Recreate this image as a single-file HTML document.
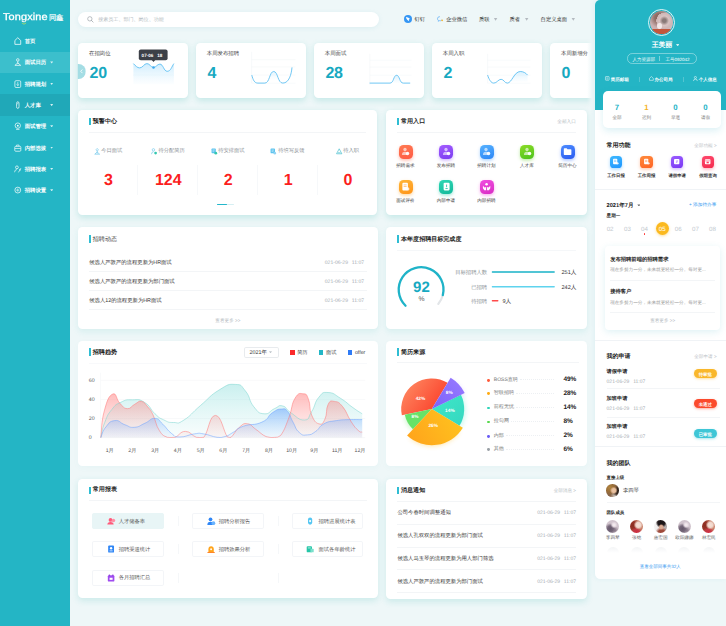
<!DOCTYPE html>
<html lang="zh">
<head>
<meta charset="utf-8">
<title>Tongxine HR Dashboard</title>
<style>
*{box-sizing:border-box;margin:0;padding:0}
html,body{width:726px;height:626px;overflow:hidden}
body{position:relative;text-rendering:geometricPrecision;background:#eef7f8;font-family:"Liberation Sans",sans-serif;color:#333;font-size:5.3px;line-height:1}
.abs{position:absolute}
svg{display:block;overflow:visible}
/* sidebar */
#side{position:absolute;left:0;top:0;width:70.4px;height:626px;background:#24b5c5;color:#fff}
#logo{position:absolute;left:3.4px;top:12.6px;font-size:10px;font-weight:normal;letter-spacing:.12px;white-space:nowrap;-webkit-text-stroke:.3px #fff;transform:scaleX(1.09);transform-origin:0 0}
#logo2{position:absolute;left:49px;top:14.2px;font-size:7.3px;letter-spacing:-.2px;white-space:nowrap;-webkit-text-stroke:.15px #fff}
.mi{position:absolute;left:0;width:70.4px;height:21.3px;font-size:5.4px;font-weight:bold}
.mi .ic{position:absolute;left:13.9px;top:6.6px;width:7.6px;height:8.2px}
.mi .tx{position:absolute;left:24.7px;top:9.5px;white-space:nowrap}
.mi .ar{position:absolute;left:50.2px;top:9.6px;width:3px;height:2.2px;background:rgba(255,255,255,.8);clip-path:polygon(0 0,100% 0,50% 100%)}
/* top */
#search{position:absolute;left:78px;top:12px;width:301.4px;height:15.4px;border-radius:8px;background:#fff;box-shadow:0 1px 5px rgba(60,170,190,.10)}
#search .ph{position:absolute;left:20.2px;top:6.1px;font-size:5.05px;color:#b4bcc2;white-space:nowrap}
.nav{position:absolute;top:18.1px;font-size:5.3px;color:#333;white-space:nowrap}
.dn{position:absolute;top:17.5px;width:4px;height:3.3px;background:#b3b9bf;clip-path:polygon(0 0,100% 0,50% 100%)}
/* cards */
.card{position:absolute;top:43.2px;width:110px;height:55px;border-radius:4.5px;background:#fff;box-shadow:0 2.5px 6px rgba(40,180,172,.2)}
.card .lb{position:absolute;left:11.2px;top:8.7px;font-size:5.4px;color:#444;white-space:nowrap}
.card .nm{position:absolute;left:11.8px;top:23px;font-size:16px;font-weight:bold;color:#17a9c1;letter-spacing:-.2px}
/* panels */
.pn{position:absolute;border-radius:4.5px;background:#fff;box-shadow:0 2.5px 6.5px rgba(40,180,172,.2)}
#p-news,#p-goal{box-shadow:0 2.5px 6.5px rgba(40,180,172,.11)}
#p-trend,#p-src{box-shadow:0 2px 6px rgba(40,180,172,.035)}
#p-rep,#p-msg{box-shadow:0 2.5px 6.5px rgba(40,180,172,.17)}
.pt{position:absolute;left:10.6px;top:7.8px;height:7.4px;border-left:2.2px solid #2fbdd3;padding-left:2px;font-size:6.05px;font-weight:bold;color:#222;line-height:10.4px;white-space:nowrap}
.hr{position:absolute;height:1px;background:#f3f5f7}
.gr{color:#b3bac0}
.wc{position:absolute;top:38.1px;width:60px;text-align:center;white-space:nowrap}
.wc .l{display:inline-block;font-size:5.25px;color:#8b9196;vertical-align:top;line-height:7px}
.wc svg{display:inline-block;vertical-align:top;width:6.4px;height:7px;margin-right:1.4px;margin-top:-.2px}
.wc .n{position:absolute;left:.6px;top:25.1px;width:60px;text-align:center;font-size:16px;font-weight:bold;color:#fb1e1e;letter-spacing:0}
.vd{position:absolute;top:55.4px;width:1px;height:30px;background:#f6f8fa}

.nr{position:absolute;left:11px;right:11px;height:19px;font-size:5.35px;color:#333;white-space:nowrap}
.nr .t{position:absolute;left:0;top:7.95px}
.nr .d{position:absolute;right:2.4px;top:7.9px;font-size:5.1px;color:#a4abb1;word-spacing:2.4px}
.more{position:absolute;left:0;right:0;text-align:center;font-size:4.6px;color:#b3bac0;white-space:nowrap}
.gl{position:absolute;margin-top:1.25px;font-size:5.35px;color:#8b9196;white-space:nowrap;text-align:right}
.gv{position:absolute;margin-top:1.7px;font-size:5.6px;color:#333;white-space:nowrap}
.gb{position:absolute;height:1.3px;border-radius:1px}
.ax{position:absolute;margin-top:1.1px;font-size:5.2px;color:#555;white-space:nowrap}
.lg{position:absolute;top:9.65px;font-size:5.2px;color:#444;white-space:nowrap}
.lg i{display:inline-block;width:4.6px;height:4.6px;margin-right:2.6px;vertical-align:-.4px}
.sl{position:absolute;margin-top:.95px;left:107.4px;font-size:5.05px;color:#777;white-space:nowrap}
.sl i{position:absolute;left:-6.4px;top:1.2px;width:2.8px;height:2.8px;border-radius:50%}
.sp{position:absolute;margin-top:1px;left:177px;width:22px;text-align:left;font-size:6.5px;font-weight:bold;color:#222;white-space:nowrap}
.sd{position:absolute;height:0;border-top:1px dotted #edf0f3}
.pp{position:absolute;font-size:4.8px;margin-top:.9px;color:#fff;font-weight:bold;white-space:nowrap}

.rb{position:absolute;width:71.6px;height:16.4px;border:1px solid #f3f5f8;border-radius:1.8px;background:#fff;font-size:5.27px;color:#555;white-space:nowrap}
.rb svg{position:absolute;left:13.6px;top:3px;width:8.2px;height:8.2px}
.rb span{position:absolute;left:25.8px;top:5.6px}
.mr{position:absolute;left:11px;right:11px;height:22.7px;font-size:5.35px;color:#333;white-space:nowrap}
.mr .t{position:absolute;left:0;top:10px}
.mr .d{position:absolute;right:0;top:9.9px;font-size:5px;color:#a4abb1;word-spacing:2.4px}

#right{font-size:5px}
.rl{position:absolute;top:77.8px;font-size:4.5px;font-weight:bold;color:#fff;white-space:nowrap}
.rs{position:absolute;top:76.6px;width:1px;height:5px;background:rgba(255,255,255,.22)}
.st{position:absolute;top:12.6px;width:24px;text-align:center}
.st b{display:block;font-size:7.8px;color:#22b3c6}
.st span{display:block;margin-top:4.6px;font-size:4.6px;color:#777;white-space:nowrap}
.rt{position:absolute;left:12px;font-size:6px;font-weight:bold;color:#222;white-space:nowrap}
.ra{position:absolute;right:9.4px;font-size:4.6px;color:#b8bec4;white-space:nowrap}
.fi{position:absolute;top:155.8px;width:12.6px;height:12.6px;border-radius:3.6px}
.fi svg{position:absolute;left:2.6px;top:2.6px;width:7.4px;height:7.4px}
.fl{position:absolute;top:173.8px;width:30px;text-align:center;font-size:4.4px;font-weight:bold;color:#333;white-space:nowrap}
.dt{position:absolute;top:226.6px;width:14px;text-align:center;font-size:6.2px;color:#c3c9cf}
.bd{position:absolute;left:99.2px;width:23px;height:9.2px;border-radius:4.6px;color:#fff;font-size:4.4px;text-align:center;line-height:12.4px;font-weight:bold;white-space:nowrap}
.av{position:absolute;border-radius:50%;overflow:hidden}
.an{position:absolute;top:536.3px;width:24px;text-align:center;font-size:4.6px;color:#666;white-space:nowrap}
.ei{position:absolute;width:14px;height:14px;border-radius:4.5px}
.ei svg{position:absolute;left:2.4px;top:2.4px;width:9.2px;height:9.2px}
.el{position:absolute;width:40px;text-align:center;font-size:4.55px;color:#333;white-space:nowrap}

</style>
</head>
<body>

<!-- ============ SIDEBAR ============ -->
<div id="side">
  <div id="logo">Tongxine</div><div id="logo2">同鑫</div>
  <svg class="abs" style="left:21.8px;top:22.6px" width="4" height="2" viewBox="0 0 4 2"><path d="M.2.3Q2 2.4 3.8.3" fill="none" stroke="#c8e64a" stroke-width=".7" stroke-linecap="round"/></svg>

  <div class="mi" style="top:30.9px"><svg class="ic" viewBox="0 0 13 14"><path d="M1.5 6 6.5 1.2 11.5 6V12.6H1.5Z" fill="none" stroke="#fff" stroke-width="1.3" stroke-linejoin="round"/></svg><span class="tx">首页</span></div>
  <div class="mi" style="top:51.8px;background:#3cbfcc"><svg class="ic" viewBox="0 0 13 14"><circle cx="6.5" cy="3.3" r="2.2" fill="none" stroke="#fff" stroke-width="1.2"/><path d="M6.5 5.6V10M1.5 12.6 6.5 8.4 11.5 12.6Z" fill="none" stroke="#fff" stroke-width="1.2" stroke-linejoin="round"/></svg><span class="tx">面试日历</span><i class="ar"></i></div>
  <div class="mi" style="top:73.1px"><svg class="ic" viewBox="0 0 13 14"><rect x="1.5" y="1.2" width="10" height="11.6" rx="2" fill="none" stroke="#fff" stroke-width="1.2"/><path d="M6.5 3.6V9.4M4.2 7.4 6.5 9.6 8.8 7.4" fill="none" stroke="#fff" stroke-width="1.1"/></svg><span class="tx">招聘规划</span><i class="ar"></i></div>
  <div class="mi" style="top:94.4px;background:#20a8b8"><svg class="ic" viewBox="0 0 13 14"><path d="M4.4 4.4Q4.4 1.2 6.5 1.2 8.6 1.2 8.6 4.4V9.6Q8.6 12.8 6.5 12.8 4.4 12.8 4.4 9.6Z" fill="none" stroke="#fff" stroke-width="1.2"/><path d="M6.5 3V5.6" stroke="#fff" stroke-width="1.1"/></svg><span class="tx">人才库</span><i class="ar"></i></div>
  <div class="mi" style="top:115.7px"><svg class="ic" viewBox="0 0 13 14"><circle cx="6.5" cy="6.2" r="4.6" fill="none" stroke="#fff" stroke-width="1.2"/><circle cx="6.5" cy="6.2" r="1.6" fill="#fff"/><path d="M3.6 12.6H9.4" stroke="#fff" stroke-width="1.2"/></svg><span class="tx">面试管理</span><i class="ar"></i></div>
  <div class="mi" style="top:137px"><svg class="ic" viewBox="0 0 13 14"><rect x="1.3" y="4" width="10.4" height="8.4" rx="1.6" fill="none" stroke="#fff" stroke-width="1.2"/><path d="M4.4 4V1.8H8.6V4M1.5 7.6H11.5" fill="none" stroke="#fff" stroke-width="1.1"/></svg><span class="tx">内部选拔</span><i class="ar"></i></div>
  <div class="mi" style="top:158.3px"><svg class="ic" viewBox="0 0 13 14"><circle cx="5" cy="4" r="2.4" fill="none" stroke="#fff" stroke-width="1.2"/><path d="M1 12.4Q1 7.8 5 7.8M7.6 12.6 11.8 5.4M9 7.4 12 9" fill="none" stroke="#fff" stroke-width="1.1"/></svg><span class="tx">招聘报表</span><i class="ar"></i></div>
  <div class="mi" style="top:179.6px"><svg class="ic" viewBox="0 0 13 14"><circle cx="6.5" cy="7" r="5" fill="none" stroke="#fff" stroke-width="1.2"/><path d="M3.6 7H9.4M6.5 4.2V9.8" stroke="#fff" stroke-width="1"/></svg><span class="tx">招聘设置</span><i class="ar"></i></div>
</div>

<!-- ============ TOP BAR ============ -->
<div id="search">
  <svg class="abs" style="left:8.6px;top:4.4px" width="6.6" height="6.6" viewBox="0 0 13 13"><circle cx="5.6" cy="5.6" r="4.3" fill="none" stroke="#8f979d" stroke-width="1.2"/><path d="M8.9 8.9 12 12" stroke="#8f979d" stroke-width="1.3" stroke-linecap="round"/></svg>
  <span class="ph">搜索员工、部门、岗位、功能</span>
</div>
<svg class="abs" style="left:404.2px;top:15.3px" width="8" height="8" viewBox="0 0 14 14"><circle cx="7" cy="7" r="7" fill="#3596f4"/><path d="M3.4 3.6Q7 4.2 10.4 6.6L8.4 8.4 9 10.8 6 8.6Q4 7 3.4 3.6Z" fill="#fff"/></svg>
<span class="nav" style="left:414.4px">钉钉</span>
<svg class="abs" style="left:437px;top:16.4px" width="6.8" height="6.6" viewBox="0 0 14 13"><path d="M6 1Q1 1 1 5.2 1 7.4 2.8 8.6L2.4 10.6 4.6 9.4Q8 10 10 8" fill="none" stroke="#4aa3f5" stroke-width="1.3"/><circle cx="10.6" cy="8.6" r="1.8" fill="#f7b731"/></svg>
<span class="nav" style="left:446.2px">企业微信</span>
<span class="nav" style="left:479px">质联</span><i class="dn" style="left:493.6px"></i>
<span class="nav" style="left:509.4px">质者</span><i class="dn" style="left:524.7px"></i>
<span class="nav" style="left:540.6px">自定义桌面</span><i class="dn" style="left:571.3px"></i>

<!-- ============ STAT CARDS ============ -->
<svg width="0" height="0" style="position:absolute"><defs>
  <linearGradient id="ga" x1="0" y1="0" x2="0" y2="1"><stop offset="0" stop-color="#8fd4fb" stop-opacity=".42"/><stop offset="1" stop-color="#bfe7fd" stop-opacity=".05"/></linearGradient>
</defs></svg>

<div class="card" style="left:77.8px"><span class="lb">在招岗位</span><span class="nm">20</span>
  <svg class="abs" style="left:0;top:0" width="110" height="55" viewBox="77.8 43.2 110 55">
    <path d="M133.2 63.8C135.4 66 137 68.1 139.5 68.1 142.6 68.1 143.8 63.8 146.7 63.8 149.6 63.8 150.6 67.6 153.3 67.6 156 67.6 157 64.3 159.7 64.3 163 64.3 163.6 71.5 167 71.5 170.6 71.5 171.6 66.6 173.7 63.8V84.4H133.2Z" fill="url(#ga)"/>
    <path d="M133.2 75.3H173.7" stroke="#e3f3fb" stroke-width=".5"/>
    <path d="M133.2 63.8C135.4 66 137 68.1 139.5 68.1 142.6 68.1 143.8 63.8 146.7 63.8 149.6 63.8 150.6 67.6 153.3 67.6 156 67.6 157 64.3 159.7 64.3 163 64.3 163.6 71.5 167 71.5 170.6 71.5 171.6 66.6 173.7 63.8" fill="none" stroke="#56bdf2" stroke-width=".85"/>
    <circle cx="153.3" cy="67.7" r="1.25" fill="#3da9ee"/>
    <rect x="138.6" y="49.6" width="28.8" height="10.8" rx="2" fill="#3c4047"/>
    <path d="M151.6 60.2H155L153.3 62.3Z" fill="#3c4047"/>
  </svg>
  <span class="abs" style="left:63.8px;top:10.5px;font-size:4.6px;color:#fff;font-weight:bold;white-space:nowrap">07-06&nbsp;&nbsp;&nbsp;18</span>
  <div class="abs" style="left:-7.6px;top:20.6px;width:15.4px;height:15.4px;border-radius:50%;background:#a4dde4;clip-path:inset(0 0 0 7.6px)"></div>
  <svg class="abs" style="left:2.2px;top:26px" width="3" height="4.6" viewBox="0 0 3 4.6"><path d="M2.4.5.7 2.3 2.4 4.1" fill="none" stroke="#fff" stroke-width=".8"/></svg>
</div>

<div class="card" style="left:195.6px"><span class="lb">本周发布招聘</span><span class="nm">4</span>
  <svg class="abs" style="left:0;top:0" width="110" height="55" viewBox="195.6 43.2 110 55">
    <path d="M251.2 59.9H295M251.2 67.1H295M251.2 75.3H295M251.2 83.4H295M251.2 52V83.4" stroke="#f1f4f7" stroke-width=".5" fill="none"/>
    <path d="M251.4 75.3C252.6 80 254 83.3 257.4 83.3H264.4C269.4 83.3 269 71.7 273.3 71.7 277.6 71.7 277.2 83.3 282.4 83.3 288.6 83.3 291 74.6 291.6 67.6" fill="none" stroke="#56bdf2" stroke-width=".85"/>
    <path d="M268.6 80C270.4 75 270.6 71.7 273.3 71.7 276 71.7 276.2 75 278 80Z" fill="url(#ga)" opacity=".6"/>
  </svg>
</div>

<div class="card" style="left:313.6px"><span class="lb">本周面试</span><span class="nm">28</span>
  <svg class="abs" style="left:0;top:0" width="110" height="55" viewBox="313.6 43.2 110 55">
    <path d="M369.4 60.4H411M369.4 67.3H411M369.4 75.4H411M369.4 54V85" stroke="#f1f4f7" stroke-width=".5" fill="none"/>
    <path d="M390.6 83.3C393.6 83.3 393.2 75.5 396.2 75.5 399.2 75.5 398.8 83.3 401.8 83.3Z" fill="url(#ga)" opacity=".8"/>
    <path d="M369.2 83.3H389.6C393.4 83.3 393 75.5 396.2 75.5 399.4 75.5 399 83.3 402.8 83.3H409.8" fill="none" stroke="#56bdf2" stroke-width=".85"/>
  </svg>
</div>

<div class="card" style="left:431.6px"><span class="lb">本周入职</span><span class="nm">2</span>
  <svg class="abs" style="left:0;top:0" width="110" height="55" viewBox="431.6 43.2 110 55">
    <path d="M487.2 60.4H530M487.2 67.3H530M487.2 75.4H530M487.2 83.4H530M487.2 54V83.4" stroke="#f1f4f7" stroke-width=".5" fill="none"/>
    <path d="M509.4 81.4C512.6 76.2 515.4 71.7 519.9 71.7 523.2 71.7 525.6 73.4 527.2 75.3V82H509Z" fill="url(#ga)" opacity=".8"/>
    <path d="M487.2 75.3C488.8 80 490.6 83.3 493.4 83.3 496.6 83.3 497.8 79.5 500.7 79.5 503.4 79.5 504.2 83.3 506.9 83.3 511.4 83.3 513.8 71.7 519.9 71.7 523.2 71.7 525.6 73.4 527.2 75.3" fill="none" stroke="#56bdf2" stroke-width=".85"/>
  </svg>
</div>

<div class="abs" style="left:540px;top:36px;width:52px;height:76px;overflow:hidden">
  <div class="card" style="left:9.8px;top:7.2px"><span class="lb">本周新增分</span><span class="nm">0</span></div>
  <div class="abs" style="right:0;top:0;width:5.4px;height:76px;background:linear-gradient(90deg,rgba(238,247,248,0),#eef7f8)"></div>
</div>

<!-- ============ PANELS ============ -->
<div class="pn" id="p-warn" style="left:78.2px;top:110px;width:299px;height:105px"><div class="pt" style="line-height:9.4px">预警中心</div><div class="hr" style="left:11px;right:11px;top:21.6px"></div>
  <div class="wc" style="left:-0.3px"><svg viewBox="0 0 12 13"><path d="M6 1.2a2 2 0 1 0 .01 0M6 5.4V10.6M1.4 11.6 6 7.4 10.6 11.6Z" fill="none" stroke="#6cc6ea" stroke-width="1.2" stroke-linejoin="round"/></svg><span class="l">今日面试</span><span class="n">3</span></div>
  <div class="wc" style="left:59.5px"><svg viewBox="0 0 12 13"><circle cx="4.6" cy="3.4" r="2.3" fill="none" stroke="#6cc6ea" stroke-width="1.2"/><path d="M1 11.6Q1 7 4.6 7" fill="none" stroke="#6cc6ea" stroke-width="1.2"/><circle cx="8.6" cy="9.4" r="2.6" fill="#35c7b0"/></svg><span class="l">待分配简历</span><span class="n">124</span></div>
  <div class="wc" style="left:119.4px"><svg viewBox="0 0 12 13"><rect x="1" y="1" width="8" height="8.6" rx="1.4" fill="#5cc3ee"/><path d="M2.8 3.6H7.2M2.8 6H6" stroke="#fff" stroke-width=".9"/><circle cx="9" cy="9.6" r="2.6" fill="#35c7b0"/></svg><span class="l">待安排面试</span><span class="n">2</span></div>
  <div class="wc" style="left:179.3px"><svg viewBox="0 0 12 13"><rect x="1" y="1" width="8.4" height="9" rx="1.6" fill="#5cc3ee"/><path d="M3 3.8H7.4M3 6.2H6.4" stroke="#fff" stroke-width=".9"/><circle cx="9" cy="9.6" r="2.4" fill="#8fd3f4"/></svg><span class="l">待填写反馈</span><span class="n">1</span></div>
  <div class="wc" style="left:239.1px"><svg viewBox="0 0 12 13"><path d="M6 1.4 11 10.8H1Z" fill="none" stroke="#38b9c9" stroke-width="1.2" stroke-linejoin="round"/><path d="M3.6 8.8H8.4" stroke="#38b9c9" stroke-width="1.1"/></svg><span class="l">待入职</span><span class="n">0</span></div>
  <div class="vd" style="left:59.2px"></div>
  <div class="vd" style="left:119.0px"></div>
  <div class="vd" style="left:178.9px"></div>
  <div class="vd" style="left:238.8px"></div>
  <div class="abs" style="left:139px;top:93.6px;width:17.2px;height:1.5px;border-radius:1px;background:#d6eff3"></div>
  <div class="abs" style="left:139px;top:93.6px;width:9.4px;height:1.5px;border-radius:1px;background:#23b7cb"></div>
</div>
<div class="pn" id="p-entry" style="left:386.4px;top:110px;width:200.6px;height:105px"><div class="pt" style="line-height:9.6px">常用入口</div><div class="hr" style="left:11px;right:11px;top:21.6px"></div>
  <span class="abs gr" style="right:11px;top:10.2px;font-size:4.7px;white-space:nowrap">全部入口</span>
  <div class="ei" style="left:12.5px;top:34.6px;background:linear-gradient(160deg,#ff7a52,#ff5a44);box-shadow:0 1.6px 3.4px rgba(255,100,70,.42)"><svg viewBox="0 0 16 16"><circle cx="7" cy="4.4" r="2.9" fill="#fff" fill-opacity=".62"/><path d="M1.6 14Q1.6 8.4 7 8.4 9.4 8.4 10.6 9.4V14Z" fill="#fff" fill-opacity=".62"/><circle cx="11.4" cy="11.4" r="3" fill="#fff" fill-opacity=".95"/><circle cx="11.4" cy="11.4" r="1.1" fill="#fff" fill-opacity=".3"/></svg></div><span class="el" style="left:-1.0px;top:54.2px">招聘需求</span>
  <div class="ei" style="left:53.0px;top:34.6px;background:linear-gradient(160deg,#a45cff,#7a3cf0);box-shadow:0 1.6px 3.4px rgba(140,80,250,.42)"><svg viewBox="0 0 16 16"><circle cx="7" cy="4.4" r="2.9" fill="#fff" fill-opacity=".62"/><path d="M1.6 14Q1.6 8.4 7 8.4 9.4 8.4 10.6 9.4V14Z" fill="#fff" fill-opacity=".62"/><circle cx="11.4" cy="11.4" r="3" fill="#fff" fill-opacity=".95"/><circle cx="11.4" cy="11.4" r="1.1" fill="#fff" fill-opacity=".3"/></svg></div><span class="el" style="left:39.5px;top:54.2px">发布招聘</span>
  <div class="ei" style="left:93.5px;top:34.6px;background:linear-gradient(160deg,#56b2ff,#2c86f6);box-shadow:0 1.6px 3.4px rgba(60,150,250,.42)"><svg viewBox="0 0 16 16"><circle cx="7" cy="4.4" r="2.9" fill="#fff" fill-opacity=".62"/><path d="M1.6 14Q1.6 8.4 7 8.4 9.4 8.4 10.6 9.4V14Z" fill="#fff" fill-opacity=".62"/><circle cx="11.4" cy="11.4" r="3" fill="#fff" fill-opacity=".95"/><circle cx="11.4" cy="11.4" r="1.1" fill="#fff" fill-opacity=".3"/></svg></div><span class="el" style="left:80.0px;top:54.2px">招聘计划</span>
  <div class="ei" style="left:134.0px;top:34.6px;background:linear-gradient(160deg,#8bdc26,#4cc21c);box-shadow:0 1.6px 3.4px rgba(100,205,40,.42)"><svg viewBox="0 0 16 16"><circle cx="7" cy="4.4" r="2.9" fill="#fff" fill-opacity=".62"/><path d="M1.6 14Q1.6 8.4 7 8.4 9.4 8.4 10.6 9.4V14Z" fill="#fff" fill-opacity=".62"/><circle cx="11.4" cy="11.4" r="3" fill="#fff" fill-opacity=".95"/><circle cx="11.4" cy="11.4" r="1.1" fill="#fff" fill-opacity=".3"/></svg></div><span class="el" style="left:120.5px;top:54.2px">人才库</span>
  <div class="ei" style="left:174.5px;top:34.6px;background:linear-gradient(160deg,#4c8cff,#2a5af0);box-shadow:0 1.6px 3.4px rgba(50,110,250,.42)"><svg viewBox="0 0 16 16"><path d="M1.4 3.2Q1.4 2 2.6 2H6.4L7.8 3.8H13.4Q14.6 3.8 14.6 5V12.8Q14.6 14 13.4 14H2.6Q1.4 14 1.4 12.8Z" fill="#fff"/></svg></div><span class="el" style="left:161.0px;top:54.2px">简历中心</span>
  <div class="ei" style="left:12.5px;top:69.9px;background:linear-gradient(160deg,#ffb638,#ff9418);box-shadow:0 1.6px 3.4px rgba(255,165,40,.42)"><svg viewBox="0 0 16 16"><rect x="2.4" y="1.4" width="9.6" height="13.2" rx="1.6" fill="#fff"/><path d="M4.6 5H9.8M4.6 7.8H9.8" stroke="rgba(255,150,30,.8)" stroke-width="1.1"/><circle cx="11.8" cy="12" r="2.8" fill="#fff" fill-opacity=".8"/></svg></div><span class="el" style="left:-1.0px;top:89px">面试评价</span>
  <div class="ei" style="left:53.0px;top:69.9px;background:linear-gradient(160deg,#2fd8b4,#12b89a);box-shadow:0 1.6px 3.4px rgba(30,200,170,.42)"><svg viewBox="0 0 16 16"><rect x="2.8" y="1.4" width="10.4" height="13.2" rx="1.8" fill="#fff"/><path d="M8 4.4V9M6 11.4H10" stroke="#18c0a0" stroke-width="1.4"/></svg></div><span class="el" style="left:39.5px;top:89px">内部申请</span>
  <div class="ei" style="left:93.5px;top:69.9px;background:linear-gradient(160deg,#f14ee0,#d82cc4);box-shadow:0 1.6px 3.4px rgba(235,60,215,.42)"><svg viewBox="0 0 16 16"><circle cx="8" cy="4" r="2.2" fill="#fff"/><path d="M1.6 6.4 4.4 9.4 7.2 8.8V14.2H4L1.6 11ZM14.4 6.4 11.6 9.4 8.8 8.8V14.2H12L14.4 11Z" fill="#fff"/></svg></div><span class="el" style="left:80.0px;top:89px">内部招聘</span>
</div>
<div class="pn" id="p-news" style="left:78.2px;top:227.4px;width:299.4px;height:101.4px"><div class="pt" style="font-weight:normal;color:#333">招聘动态</div>
  <div class="nr" style="top:25.8px"><span class="t">候选人严敦严的流程更新为HR面试</span><span class="d">021-06-29 11:07</span></div>
  <div class="hr" style="left:11px;right:11px;top:44.1px"></div>
  <div class="nr" style="top:44.8px"><span class="t">候选人严敦严的流程更新为部门面试</span><span class="d">021-06-29 11:07</span></div>
  <div class="hr" style="left:11px;right:11px;top:63.1px"></div>
  <div class="nr" style="top:63.8px"><span class="t">候选人12的流程更新为HR面试</span><span class="d">021-06-29 11:07</span></div>
  <div class="hr" style="left:11px;right:11px;top:82.1px"></div>
  <div class="more" style="top:91.5px">查看更多 &gt;&gt;</div>
</div>
<div class="pn" id="p-goal" style="left:386.4px;top:227.4px;width:200.6px;height:101.4px"><div class="pt">本年度招聘目标完成度</div><div class="hr" style="left:11px;right:11px;top:22.6px;background:#f5f7f9"></div>
  <svg class="abs" style="left:0;top:0" width="200" height="101" viewBox="0 0 200 101"><path d="M56.83 68.02A22.4 22.4 0 0 1 52.26 77.00" fill="none" stroke="#e2e5e8" stroke-width="2.1" stroke-linecap="round"/><path d="M19.54 78.71A22.4 22.4 0 1 1 56.83 68.02" fill="none" stroke="#1fb3c8" stroke-width="2.3" stroke-linecap="round"/><path d="M106.4 45.0H168.2" stroke="#18b2c8" stroke-width="1.35" stroke-linecap="round"/><path d="M106.4 59.7H168.2" stroke="#5fd3ee" stroke-width="1.35" stroke-linecap="round"/><path d="M106.4 73.7H111.8" stroke="#ff4a4a" stroke-width="1.35" stroke-linecap="round"/></svg>
  <span class="abs" style="left:20.1px;top:52.7px;width:30px;text-align:center;font-size:15px;font-weight:bold;color:#17a9c1;letter-spacing:.2px">92</span>
  <span class="abs" style="left:20.1px;top:69.7px;width:30px;text-align:center;font-size:6.8px;color:#555">%</span>
  <span class="gl" style="left:60px;width:40.8px;top:42.5px">目标招聘人数</span><span class="gv" style="left:175.1px;top:42.0px">251人</span>
  <span class="gl" style="left:60px;width:40.8px;top:57.2px">已招聘</span><span class="gv" style="left:175.1px;top:56.7px">242人</span>
  <span class="gl" style="left:60px;width:40.8px;top:71.2px">待招聘</span><span class="gv" style="left:116.0px;top:70.7px">9人</span>
</div>
<div class="pn" id="p-trend" style="left:78.2px;top:340.6px;width:299.4px;height:125.4px"><div class="pt">招聘趋势</div><div class="hr" style="left:11px;right:11px;top:22.4px;background:#f8f9fb"></div>
  <svg class="abs" style="left:0;top:0" width="299" height="125" viewBox="0 0 299 125"><defs><linearGradient id="gr" x1="0" y1="0" x2="0" y2="1"><stop offset="0" stop-color="#f77" stop-opacity=".5"/><stop offset="1" stop-color="#f99" stop-opacity=".08"/></linearGradient><linearGradient id="gt" x1="0" y1="0" x2="0" y2="1"><stop offset="0" stop-color="#62d2cf" stop-opacity=".34"/><stop offset="1" stop-color="#8fe0dd" stop-opacity=".06"/></linearGradient><linearGradient id="gb" x1="0" y1="0" x2="0" y2="1"><stop offset="0" stop-color="#5c9cff" stop-opacity=".5"/><stop offset="1" stop-color="#8fbaff" stop-opacity=".08"/></linearGradient></defs><path d="M22.8 39.3H287.2M22.8 58.4H287.2M22.8 77.5H287.2M22.8 96.6H287.2M22.4 31.7V96.6" stroke="#f0f2f4" stroke-width=".5" fill="none"/><path d="M22.8 96.6C23.9 92.3 23.7 89.1 26.8 81.3C29.9 73.5 29.2 74.3 33.7 68.7C38.2 63.1 37.0 64.0 42.8 61.3C48.6 58.5 47.6 58.7 54.3 58.8C61.0 58.8 60.3 57.5 66.7 61.5C73.1 65.4 71.7 67.9 77.0 72.8C82.3 77.7 80.6 76.5 85.8 78.9C91.0 81.4 89.9 81.5 95.6 81.5C101.3 81.5 98.5 83.8 106.0 79.0C113.5 74.3 112.7 72.9 122.5 64.5C132.3 56.1 131.4 55.0 141.1 49.0C150.8 43.1 149.7 43.1 157.1 43.4C164.5 43.7 162.3 43.9 167.5 50.1C172.7 56.3 170.5 59.2 175.7 65.6C180.9 71.9 180.3 72.2 186.1 72.8C191.9 73.4 191.2 69.9 196.4 67.7C201.6 65.5 200.1 63.8 204.7 65.0C209.3 66.1 206.9 67.8 212.9 71.8C218.9 75.7 220.5 79.3 226.3 79.0C232.1 78.7 229.5 77.1 233.6 70.7C237.7 64.4 236.2 61.7 240.8 56.3C245.4 50.9 244.0 51.3 250.1 51.5C256.2 51.8 255.6 53.0 262.5 57.3C269.4 61.5 268.8 62.3 274.9 66.6C281.0 71.0 281.6 71.1 284.2 72.8L284.2 96.6L22.8 96.6Z" fill="url(#gt)"/><path d="M22.8 96.6C23.7 89.6 23.2 81.2 26.3 69.9C29.4 58.6 30.7 55.1 34.7 53.1C38.7 51.2 38.0 58.4 41.8 62.2C45.6 66.0 45.3 67.4 49.2 67.7C53.1 67.9 53.1 65.1 56.8 63.2C60.5 61.3 60.2 59.7 63.6 60.4C67.0 61.2 66.8 62.5 69.8 66.0C72.8 69.5 72.0 67.8 75.0 73.9C78.0 79.9 77.5 83.5 81.2 89.3C84.9 95.2 85.3 94.5 89.4 96.3C93.5 96.6 92.1 96.6 96.8 96.3C101.5 94.8 101.8 90.4 107.4 90.4C113.0 90.4 113.6 94.8 118.4 96.3C123.2 96.6 120.9 96.6 125.8 96.3C130.7 90.6 131.3 74.5 137.4 74.4C143.5 74.4 145.3 90.3 149.4 96.0C153.5 96.6 149.9 96.6 153.0 96.3C156.1 93.8 157.0 89.8 161.3 86.3C165.6 82.8 165.2 82.2 169.5 82.8C173.8 83.3 173.0 84.9 177.8 88.3C182.6 91.6 183.3 93.5 188.1 95.6C192.9 96.6 192.6 96.6 196.4 96.4C200.2 96.1 198.9 96.6 202.6 94.5C206.3 89.4 207.1 86.6 210.8 76.9C214.5 67.2 213.2 63.5 217.0 57.3C220.8 51.0 221.8 52.5 225.3 52.8C228.8 53.1 228.3 52.9 230.5 58.4C232.7 63.9 230.9 67.5 233.6 73.9C236.3 80.2 237.3 81.7 240.8 82.8C244.3 83.8 244.6 83.0 247.0 78.0C249.4 73.0 247.7 68.0 250.1 63.5C252.5 58.9 252.5 59.9 256.3 60.4C260.1 61.0 260.3 60.4 264.6 65.6C268.9 70.7 268.8 73.9 272.8 80.1C276.8 86.3 277.1 86.5 280.1 89.3C283.1 92.2 283.1 90.6 284.2 91.1L284.2 96.6L22.8 96.6Z" fill="url(#gr)"/><path d="M22.8 96.6C24.2 93.7 23.9 90.9 27.8 86.1C31.7 81.3 31.5 80.3 36.8 79.6C42.1 78.9 41.3 81.8 46.8 83.7C52.3 85.6 50.8 86.7 56.4 86.3C62.0 85.9 61.0 84.8 66.8 82.3C72.6 79.8 72.0 77.1 77.0 77.4C82.0 77.7 80.2 79.0 84.8 83.2C89.4 87.5 88.8 88.9 93.6 92.5C98.4 96.1 95.4 95.9 101.8 96.0C108.2 96.1 109.6 93.8 116.3 92.9C123.0 92.0 119.2 91.9 125.6 92.9C132.0 93.8 133.1 95.5 139.0 96.3C144.9 96.6 142.3 96.6 146.8 95.6C151.3 94.3 149.9 94.4 155.1 91.4C160.3 88.5 157.3 88.1 165.4 85.2C173.5 82.3 175.9 84.9 184.0 81.1C192.1 77.4 188.8 75.4 194.3 71.8C199.8 68.1 199.3 68.3 203.6 68.0C207.9 67.8 206.6 67.1 209.8 70.7C213.0 74.4 211.8 75.3 215.0 81.1C218.2 86.9 217.2 87.9 221.2 91.4C225.2 95.0 224.8 94.2 229.4 93.9C234.0 93.6 233.1 93.5 237.7 90.4C242.3 87.3 240.2 85.8 246.0 82.8C251.8 79.7 251.5 80.8 258.4 79.6C265.3 78.5 263.6 78.9 270.8 78.6C278.0 78.4 280.4 78.6 284.2 78.6L284.2 96.6L22.8 96.6Z" fill="url(#gb)"/><path d="M22.8 96.6C23.9 92.3 23.7 89.1 26.8 81.3C29.9 73.5 29.2 74.3 33.7 68.7C38.2 63.1 37.0 64.0 42.8 61.3C48.6 58.5 47.6 58.7 54.3 58.8C61.0 58.8 60.3 57.5 66.7 61.5C73.1 65.4 71.7 67.9 77.0 72.8C82.3 77.7 80.6 76.5 85.8 78.9C91.0 81.4 89.9 81.5 95.6 81.5C101.3 81.5 98.5 83.8 106.0 79.0C113.5 74.3 112.7 72.9 122.5 64.5C132.3 56.1 131.4 55.0 141.1 49.0C150.8 43.1 149.7 43.1 157.1 43.4C164.5 43.7 162.3 43.9 167.5 50.1C172.7 56.3 170.5 59.2 175.7 65.6C180.9 71.9 180.3 72.2 186.1 72.8C191.9 73.4 191.2 69.9 196.4 67.7C201.6 65.5 200.1 63.8 204.7 65.0C209.3 66.1 206.9 67.8 212.9 71.8C218.9 75.7 220.5 79.3 226.3 79.0C232.1 78.7 229.5 77.1 233.6 70.7C237.7 64.4 236.2 61.7 240.8 56.3C245.4 50.9 244.0 51.3 250.1 51.5C256.2 51.8 255.6 53.0 262.5 57.3C269.4 61.5 268.8 62.3 274.9 66.6C281.0 71.0 281.6 71.1 284.2 72.8" fill="none" stroke="#7fd6d2" stroke-width=".55"/><path d="M22.8 96.6C23.7 89.6 23.2 81.2 26.3 69.9C29.4 58.6 30.7 55.1 34.7 53.1C38.7 51.2 38.0 58.4 41.8 62.2C45.6 66.0 45.3 67.4 49.2 67.7C53.1 67.9 53.1 65.1 56.8 63.2C60.5 61.3 60.2 59.7 63.6 60.4C67.0 61.2 66.8 62.5 69.8 66.0C72.8 69.5 72.0 67.8 75.0 73.9C78.0 79.9 77.5 83.5 81.2 89.3C84.9 95.2 85.3 94.5 89.4 96.3C93.5 96.6 92.1 96.6 96.8 96.3C101.5 94.8 101.8 90.4 107.4 90.4C113.0 90.4 113.6 94.8 118.4 96.3C123.2 96.6 120.9 96.6 125.8 96.3C130.7 90.6 131.3 74.5 137.4 74.4C143.5 74.4 145.3 90.3 149.4 96.0C153.5 96.6 149.9 96.6 153.0 96.3C156.1 93.8 157.0 89.8 161.3 86.3C165.6 82.8 165.2 82.2 169.5 82.8C173.8 83.3 173.0 84.9 177.8 88.3C182.6 91.6 183.3 93.5 188.1 95.6C192.9 96.6 192.6 96.6 196.4 96.4C200.2 96.1 198.9 96.6 202.6 94.5C206.3 89.4 207.1 86.6 210.8 76.9C214.5 67.2 213.2 63.5 217.0 57.3C220.8 51.0 221.8 52.5 225.3 52.8C228.8 53.1 228.3 52.9 230.5 58.4C232.7 63.9 230.9 67.5 233.6 73.9C236.3 80.2 237.3 81.7 240.8 82.8C244.3 83.8 244.6 83.0 247.0 78.0C249.4 73.0 247.7 68.0 250.1 63.5C252.5 58.9 252.5 59.9 256.3 60.4C260.1 61.0 260.3 60.4 264.6 65.6C268.9 70.7 268.8 73.9 272.8 80.1C276.8 86.3 277.1 86.5 280.1 89.3C283.1 92.2 283.1 90.6 284.2 91.1" fill="none" stroke="#ff7b7b" stroke-width=".55"/><path d="M22.8 96.6C24.2 93.7 23.9 90.9 27.8 86.1C31.7 81.3 31.5 80.3 36.8 79.6C42.1 78.9 41.3 81.8 46.8 83.7C52.3 85.6 50.8 86.7 56.4 86.3C62.0 85.9 61.0 84.8 66.8 82.3C72.6 79.8 72.0 77.1 77.0 77.4C82.0 77.7 80.2 79.0 84.8 83.2C89.4 87.5 88.8 88.9 93.6 92.5C98.4 96.1 95.4 95.9 101.8 96.0C108.2 96.1 109.6 93.8 116.3 92.9C123.0 92.0 119.2 91.9 125.6 92.9C132.0 93.8 133.1 95.5 139.0 96.3C144.9 96.6 142.3 96.6 146.8 95.6C151.3 94.3 149.9 94.4 155.1 91.4C160.3 88.5 157.3 88.1 165.4 85.2C173.5 82.3 175.9 84.9 184.0 81.1C192.1 77.4 188.8 75.4 194.3 71.8C199.8 68.1 199.3 68.3 203.6 68.0C207.9 67.8 206.6 67.1 209.8 70.7C213.0 74.4 211.8 75.3 215.0 81.1C218.2 86.9 217.2 87.9 221.2 91.4C225.2 95.0 224.8 94.2 229.4 93.9C234.0 93.6 233.1 93.5 237.7 90.4C242.3 87.3 240.2 85.8 246.0 82.8C251.8 79.7 251.5 80.8 258.4 79.6C265.3 78.5 263.6 78.9 270.8 78.6C278.0 78.4 280.4 78.6 284.2 78.6" fill="none" stroke="#6fa5ff" stroke-width=".55"/></svg>
  <span class="ax" style="left:10.6px;width:10px;text-align:left;top:37.1px">60</span>
  <span class="ax" style="left:10.6px;width:10px;text-align:left;top:56.1px">40</span>
  <span class="ax" style="left:10.6px;width:10px;text-align:left;top:75.1px">20</span>
  <span class="ax" style="left:10.6px;width:10px;text-align:left;top:94.1px">0</span>
  <span class="ax" style="left:21.5px;width:20px;text-align:center;top:107.3px">1月</span>
  <span class="ax" style="left:44.2px;width:20px;text-align:center;top:107.3px">2月</span>
  <span class="ax" style="left:67.0px;width:20px;text-align:center;top:107.3px">3月</span>
  <span class="ax" style="left:89.7px;width:20px;text-align:center;top:107.3px">4月</span>
  <span class="ax" style="left:112.5px;width:20px;text-align:center;top:107.3px">5月</span>
  <span class="ax" style="left:135.2px;width:20px;text-align:center;top:107.3px">6月</span>
  <span class="ax" style="left:158.0px;width:20px;text-align:center;top:107.3px">7月</span>
  <span class="ax" style="left:180.8px;width:20px;text-align:center;top:107.3px">8月</span>
  <span class="ax" style="left:203.5px;width:20px;text-align:center;top:107.3px">10月</span>
  <span class="ax" style="left:226.2px;width:20px;text-align:center;top:107.3px">9月</span>
  <span class="ax" style="left:249.0px;width:20px;text-align:center;top:107.3px">11月</span>
  <span class="ax" style="left:271.8px;width:20px;text-align:center;top:107.3px">12月</span>
  <div class="abs" style="left:166.2px;top:6px;width:34.8px;height:11.2px;border:1px solid #e8ebee;border-radius:1.8px;background:#fff"></div><span class="abs" style="left:171.2px;top:10.5px;font-size:5.45px;color:#333">2021年</span><i class="dn" style="left:190.8px;top:10.6px;width:3px;height:2.2px;background:#c1c7cc"></i>
  <span class="lg" style="left:211.8px"><i style="background:#fb2a2a"></i>简历</span><span class="lg" style="left:240.6px"><i style="background:#22b6c6"></i>面试</span><span class="lg" style="left:269.6px"><i style="background:#2f7bf5"></i>offer</span>
</div>
<div class="pn" id="p-src" style="left:386.4px;top:340.6px;width:200.6px;height:125.4px"><div class="pt">简历来源</div><div class="hr" style="left:11px;right:8px;top:21.8px"></div>
  <svg class="abs" style="left:0;top:0" width="200" height="125" viewBox="0 0 200 125"><defs><linearGradient id="p1" x1="0" y1="0.1" x2="1" y2="0.7"><stop offset="0" stop-color="#ff8e66"/><stop offset=".85" stop-color="#fb4830"/></linearGradient><linearGradient id="p2" x1="0" y1="0.6" x2="1" y2="0.2"><stop offset="0" stop-color="#ffa61c"/><stop offset="1" stop-color="#ffc41e"/></linearGradient><linearGradient id="p3" x1="0" y1="0" x2="1" y2="1"><stop offset="0" stop-color="#3fe8c8"/><stop offset="1" stop-color="#35d7c0"/></linearGradient><linearGradient id="p4" x1="0" y1="1" x2="1" y2="0"><stop offset="0" stop-color="#7a62fb"/><stop offset="1" stop-color="#9a7bff"/></linearGradient><filter id="blur" x="-30%" y="-30%" width="160%" height="160%"><feGaussianBlur stdDeviation="2.6"/></filter></defs><path d="M45.8 68.0L73.31 87.98A34 34 0 0 1 23.95 94.05Z" fill="#ffc53d" opacity=".45" filter="url(#blur)" transform="translate(0,3)"/><path d="M45.8 68.0L64.86 38.65A35 35 0 0 1 77.26 52.66Z" fill="#9a7bff" opacity=".3" filter="url(#blur)" transform="translate(1,1)"/><path d="M45.8 68.0L27.39 87.75A27 27 0 0 1 19.39 73.61Z" fill="#66e268" opacity=".35" filter="url(#blur)" transform="translate(-1,1.5)"/><path d="M45.8 68.0L74.56 53.97A32 32 0 0 1 73.23 84.48Z" fill="#3fe8c8" opacity=".3" filter="url(#blur)" transform="translate(1.5,1.5)"/><path d="M45.8 68.0L15.87 74.36A30.6 30.6 0 0 1 61.56 41.77Z" fill="url(#p1)"/><path d="M45.8 68.0L26.98 88.19A27.6 27.6 0 0 1 18.80 73.74Z" fill="#66e268"/><path d="M45.8 68.0L74.92 53.80A32.4 32.4 0 0 1 73.57 84.69Z" fill="url(#p3)"/><path d="M45.8 68.0L64.65 36.63A36.6 36.6 0 0 1 78.70 51.96Z" fill="url(#p4)"/><path d="M45.8 68.0L76.83 86.64A36.2 36.2 0 0 1 21.11 94.48Z" fill="url(#p2)"/></svg>
  <span class="pp" style="left:28.1px;width:12px;text-align:center;top:56.8px">42%</span>
  <span class="pp" style="left:56.9px;width:12px;text-align:center;top:50.8px">8%</span>
  <span class="pp" style="left:57.5px;width:12px;text-align:center;top:68.4px">14%</span>
  <span class="pp" style="left:40.8px;width:12px;text-align:center;top:83.5px">26%</span>
  <span class="pp" style="left:22.6px;width:12px;text-align:center;top:75.0px">8%</span>
  <span class="sl" style="top:36.0px"><i style="background:#ff5a3a"></i>BOSS直聘</span><i class="sd" style="left:133.4px;width:34.6px;top:38.6px"></i><span class="sp" style="top:35.4px">49%</span>
  <span class="sl" style="top:49.6px"><i style="background:#ffaa12"></i>智联招聘</span><i class="sd" style="left:129.4px;width:38.6px;top:52.2px"></i><span class="sp" style="top:49.0px">28%</span>
  <span class="sl" style="top:63.8px"><i style="background:#2fd4b8"></i>前程无忧</span><i class="sd" style="left:129.4px;width:38.6px;top:66.4px"></i><span class="sp" style="top:63.2px">14%</span>
  <span class="sl" style="top:77.8px"><i style="background:#58d84e"></i>拉勾网</span><i class="sd" style="left:124.4px;width:43.6px;top:80.4px"></i><span class="sp" style="top:77.2px">8%</span>
  <span class="sl" style="top:92.0px"><i style="background:#6a5cf6"></i>内部</span><i class="sd" style="left:119.4px;width:48.6px;top:94.6px"></i><span class="sp" style="top:91.4px">2%</span>
  <span class="sl" style="top:105.6px"><i style="background:#9aa0a6"></i>其他</span><i class="sd" style="left:119.4px;width:48.6px;top:108.2px"></i><span class="sp" style="top:105.0px">6%</span>
</div>
<div class="pn" id="p-rep" style="left:78.2px;top:478.8px;width:299.4px;height:119px"><div class="pt" style="line-height:7.6px">常用报表</div><div class="hr" style="left:11px;right:11px;top:21.6px"></div>
  <div class="rb" style="left:13.8px;top:34.2px;background:#e8f5f6;border-color:#e8f5f6"><svg viewBox="0 0 14 14"><circle cx="6" cy="5" r="3.2" fill="#ff5a7a"/><path d="M.6 13Q.6 8.6 6 8.6T11.4 13Z" fill="#ff5a7a"/><circle cx="11" cy="6" r="3" fill="#ff8fa6"/></svg><span>人才储备率</span></div>
  <div class="rb" style="left:113.8px;top:34.2px"><svg viewBox="0 0 14 14"><circle cx="6" cy="4" r="3.2" fill="#2f86f6"/><path d="M.6 13.6Q.6 8 6 8T11.4 13.6Z" fill="#2f86f6"/><circle cx="11" cy="10.6" r="3.2" fill="#69b4ff"/></svg><span>招聘分析报告</span></div>
  <div class="rb" style="left:213.6px;top:34.2px"><svg viewBox="0 0 14 14"><rect x="3.4" y=".8" width="7.2" height="12.4" rx="3.6" fill="#55c6f2"/><circle cx="7" cy="7" r="1.8" fill="#fff"/></svg><span>招聘进展统计表</span></div>
  <div class="rb" style="left:13.8px;top:62.3px"><svg viewBox="0 0 14 14"><rect x="2" y="1" width="10" height="12" rx="1.6" fill="#2f86f6"/><circle cx="7" cy="5.6" r="2" fill="#fff"/><path d="M4.4 10H9.6" stroke="#fff" stroke-width="1.2"/></svg><span>招聘渠道统计</span></div>
  <div class="rb" style="left:113.8px;top:62.3px"><svg viewBox="0 0 14 14"><path d="M2.4 12V7.4Q2.4 2 7 2T11.6 7.4V12Z" fill="#ffa41c"/><path d="M.8 12.8H13.2" stroke="#ff7a1a" stroke-width="1.6"/><circle cx="7" cy="7.2" r="1.6" fill="#fff"/></svg><span>招聘效果分析</span></div>
  <div class="rb" style="left:213.6px;top:62.3px"><svg viewBox="0 0 14 14"><rect x="1.2" y="2" width="9" height="10.6" rx="1.6" fill="#26c6a8"/><rect x="7.6" y="6.4" width="5.6" height="6.2" rx="1.2" fill="#7be0cc"/><path d="M3.2 5H8.2" stroke="#fff" stroke-width="1.1"/></svg><span>面试各年龄统计</span></div>
  <div class="rb" style="left:13.8px;top:90.9px"><svg viewBox="0 0 14 14"><rect x="1.4" y="2" width="11.2" height="11" rx="2" fill="#a04cf0"/><path d="M4 .8V3.6M10 .8V3.6" stroke="#7a2ad0" stroke-width="1.4"/><rect x="4.4" y="6.4" width="5.2" height="3.6" fill="#fff"/></svg><span>各月招聘汇总</span></div>
  <div class="abs" style="left:99.8px;top:37.2px;width:1px;height:10px;background:#f5f7f9"></div>
  <div class="abs" style="left:99.8px;top:65.3px;width:1px;height:10px;background:#f5f7f9"></div>
  <div class="abs" style="left:99.8px;top:93.9px;width:1px;height:10px;background:#f5f7f9"></div>
  <div class="abs" style="left:199.8px;top:37.2px;width:1px;height:10px;background:#f5f7f9"></div>
  <div class="abs" style="left:199.8px;top:65.3px;width:1px;height:10px;background:#f5f7f9"></div>
  <div class="abs" style="left:199.8px;top:93.9px;width:1px;height:10px;background:#f5f7f9"></div>
</div>
<div class="pn" id="p-msg" style="left:386.4px;top:479px;width:200.6px;height:119.8px"><div class="pt" style="line-height:8px">消息通知</div><div class="hr" style="left:11px;right:11px;top:21.8px"></div>
  <span class="abs gr" style="right:11px;top:9.6px;font-size:4.6px;white-space:nowrap">全部消息 &gt;</span>
  <div class="mr" style="top:22.4px"><span class="t">公司今春时间调整通知</span><span class="d">021-06-29 11:07</span></div><div class="hr" style="left:11px;right:11px;top:44.8px"></div>
  <div class="mr" style="top:45.1px"><span class="t">候选人孔双双的流程更新为部门面试</span><span class="d">021-06-29 11:07</span></div><div class="hr" style="left:11px;right:11px;top:67.5px"></div>
  <div class="mr" style="top:67.9px"><span class="t">候选人马玉琴的流程更新为用人部门筛选</span><span class="d">021-06-29 11:07</span></div><div class="hr" style="left:11px;right:11px;top:90.3px"></div>
  <div class="mr" style="top:90.7px"><span class="t">候选人严敦严的流程更新为部门面试</span><span class="d">021-06-29 11:07</span></div><div class="hr" style="left:11px;right:11px;top:113.1px"></div>
</div>

<!-- ============ RIGHT PANEL ============ -->
<div id="right" class="abs" style="left:594.6px;top:0;width:131.4px;height:579.2px;background:#fff;border-radius:5px 0 0 5.5px;overflow:hidden;box-shadow:-1px 0 5px rgba(40,170,190,.08)">
  <div class="abs" style="left:0;top:0;width:131.4px;height:109.6px;background:#24b5c5"></div>
  <div class="abs" style="left:53.4px;top:8.6px;width:27.2px;height:27.2px;border-radius:50%;border:1px solid rgba(255,255,255,.85)"></div>
  <div class="av" style="left:55.3px;top:10.5px;width:23.4px;height:23.4px;background:radial-gradient(circle at 62% 42%,#8a7a78 0,#8a7a78 9%,#d8c3c2 24%,#cdb6b6 40%,rgba(0,0,0,0) 41%),radial-gradient(circle at 40% 30%,#7a5a50 0,#94726a 22%,#c9aeb0 46%,#d9c6c8 100%)"><i class="abs" style="left:0;bottom:0;width:100%;height:5.4px;background:#c2573c"></i><i class="abs" style="left:7.6px;top:12.6px;width:5px;height:6px;border-radius:50%;background:#f3e8e8"></i></div>
  <span class="abs" style="left:49.4px;top:43.2px;width:36px;text-align:center;font-size:6.9px;font-weight:bold;color:#fff;white-space:nowrap">王美丽</span><i class="dn" style="left:81.4px;top:44px;width:3.4px;height:2.4px;background:rgba(255,255,255,.8)"></i>
  <div class="abs" style="left:32.4px;top:53.4px;width:69.6px;height:10.4px;border-radius:5.2px;border:1px solid rgba(255,255,255,.38)"></div>
  <span class="abs" style="left:37.8px;top:57.5px;font-size:4.5px;color:#fff;white-space:nowrap">人力资源部</span><i class="abs" style="left:64.8px;top:56.4px;width:1px;height:4.6px;background:rgba(255,255,255,.4)"></i><span class="abs" style="left:71.0px;top:57.5px;font-size:4.5px;color:#fff;white-space:nowrap">工号092042</span>
  <svg class="abs" style="left:10.8px;top:76.4px" width="4.6" height="4.8" viewBox="0 0 10 10"><rect x="1" y="1" width="8" height="8" rx="1" fill="none" stroke="#fff" stroke-width="1.1"/><path d="M3 4H7M3 6.4H7" stroke="#fff" stroke-width="1"/></svg><span class="rl" style="left:16.2px">简历邮箱</span><i class="rs" style="left:44.0px"></i>
  <svg class="abs" style="left:54.4px;top:76.2px" width="4.8" height="4.8" viewBox="0 0 10 10"><path d="M1 5 5 1.2 9 5V9H1Z" fill="none" stroke="#fff" stroke-width="1.1"/></svg><span class="rl" style="left:60.0px">办公司局</span><i class="rs" style="left:88.6px"></i>
  <svg class="abs" style="left:98.4px;top:75.8px" width="4.8" height="5.4" viewBox="0 0 10 11"><circle cx="5" cy="3" r="2.2" fill="none" stroke="#fff" stroke-width="1.1"/><path d="M1 10.4Q1 6.4 5 6.4T9 10.4" fill="none" stroke="#fff" stroke-width="1.1"/></svg><span class="rl" style="left:104.2px">个人信息</span>
  <div class="abs" style="left:8.2px;top:91.4px;width:117.8px;height:37px;border-radius:5px;background:#fff;box-shadow:0 2.5px 7px rgba(40,170,190,.16)">
    <div class="st" style="left:2.2px"><b style="color:#22b3c6">7</b><span>全部</span></div>
    <div class="st" style="left:31.7px"><b style="color:#f5b324">1</b><span>迟到</span></div>
    <div class="st" style="left:60.7px"><b style="color:#22b3c6">0</b><span>早退</span></div>
    <div class="st" style="left:90.7px"><b style="color:#22b3c6">0</b><span>请假</span></div>
  </div>
  <span class="rt" style="top:143.2px">常用功能</span><span class="ra" style="top:144.0px">全部功能 &gt;</span>
  <div class="fi" style="left:15.1px;background:linear-gradient(160deg,#3db8ff,#1e96ff);box-shadow:0 1.6px 3.4px rgba(40,160,255,.4)"><svg viewBox="0 0 16 16"><rect x="2.4" y="1.6" width="9" height="12" rx="1.6" fill="#fff"/><path d="M4.4 5H9.4M4.4 7.8H9.4" stroke="#39a9ff" stroke-width="1.1"/><circle cx="11.6" cy="11.6" r="2.6" fill="#fff" fill-opacity=".85"/></svg></div><span class="fl" style="left:6.4px">工作日报</span>
  <div class="fi" style="left:45.6px;background:linear-gradient(160deg,#ff8a3c,#ff6424);box-shadow:0 1.6px 3.4px rgba(255,120,50,.4)"><svg viewBox="0 0 16 16"><rect x="2.4" y="1.6" width="9" height="12" rx="1.6" fill="#fff"/><path d="M4.4 5H9.4M4.4 7.8H9.4" stroke="#ff7a30" stroke-width="1.1"/><circle cx="11.6" cy="11.6" r="2.6" fill="#fff" fill-opacity=".85"/></svg></div><span class="fl" style="left:36.9px">工作周报</span>
  <div class="fi" style="left:76.3px;background:linear-gradient(160deg,#9a5cff,#7a38f4);box-shadow:0 1.6px 3.4px rgba(140,80,250,.4)"><svg viewBox="0 0 16 16"><rect x="2.2" y="2" width="11.6" height="11.6" rx="2" fill="#fff"/><path d="M8.8 4.6V9.4Q7.4 8.8 6.4 9.8" fill="none" stroke="#8a48fa" stroke-width="1.3"/></svg></div><span class="fl" style="left:67.6px">请假申请</span>
  <div class="fi" style="left:107.1px;background:linear-gradient(160deg,#ff4a6e,#f42a4c);box-shadow:0 1.6px 3.4px rgba(250,60,90,.4)"><svg viewBox="0 0 16 16"><rect x="2" y="2.6" width="12" height="11" rx="2" fill="#fff"/><path d="M2 6.2H14" stroke="#f83a5c" stroke-width="1.1"/><rect x="5.6" y="8" width="4.8" height="3.4" fill="#f83a5c"/></svg></div><span class="fl" style="left:98.4px">假期查询</span>
  <div class="hr" style="left:0;right:0;top:189.4px;background:#f0f3f6"></div>
  <span class="rt" style="top:203.8px;font-size:5.65px">2021年7月</span><i class="dn" style="left:42.8px;top:204.4px;width:3px;height:2px;background:#666"></i>
  <span class="abs" style="right:9.6px;top:202.6px;font-size:4.67px;color:#3a9cf0;white-space:nowrap">+ 添加待办事</span>
  <span class="rt" style="top:213.7px;font-size:4.6px">星期一</span>
  <div class="abs" style="left:61.1px;top:222.2px;width:13.2px;height:13.2px;border-radius:50%;background:#fbb91f;box-shadow:0 1px 3px rgba(250,185,30,.45)"></div>
  <span class="dt" style="left:8.5px">02</span>  <span class="dt" style="left:25.8px">03</span>  <span class="dt" style="left:42.8px">04</span>  <span class="dt" style="left:60.7px;color:#fff">05</span>  <span class="dt" style="left:76.7px">06</span>  <span class="dt" style="left:93.9px">07</span>  <span class="dt" style="left:110.9px">08</span>
  <i class="abs" style="left:49.2px;top:233.4px;width:1.3px;height:1.3px;border-radius:50%;background:#f33"></i>
  <div class="abs" style="left:10.4px;top:245.6px;width:115.4px;height:84.4px;border-radius:4px;background:#fff;box-shadow:0 2px 7px rgba(40,170,190,.15)">
    <span class="abs" style="left:5.2px;top:12.0px;font-size:5.3px;font-weight:bold;color:#222;white-space:nowrap">发布招聘前端的招聘需求</span>
    <span class="abs" style="left:5.2px;top:22.8px;font-size:4.6px;color:#999;white-space:nowrap">现在多努力一分，未来就更轻松一分。每对更...</span>
    <div class="hr" style="left:5px;right:5px;top:34px"></div>
    <span class="abs" style="left:5.2px;top:44.3px;font-size:5.3px;font-weight:bold;color:#222;white-space:nowrap">接待客户</span>
    <span class="abs" style="left:5.2px;top:55.1px;font-size:4.6px;color:#999;white-space:nowrap">现在多努力一分，未来就更轻松一分。每对更...</span>
    <div class="hr" style="left:5px;right:5px;top:66.8px"></div>
    <div class="more" style="top:73.8px">查看更多 &gt;&gt;</div>
  </div>
  <div class="hr" style="left:0;right:0;top:340px;background:#f0f3f6"></div>
  <span class="rt" style="top:353.9px">我的申请</span><span class="ra" style="top:354.7px">全部申请 &gt;</span>
  <span class="abs" style="left:12px;top:369.5px;font-size:5.2px;font-weight:bold;color:#222;white-space:nowrap">请假申请</span><span class="abs" style="left:12px;top:379.9px;font-size:5px;color:#a4abb1;word-spacing:2.4px;white-space:nowrap">021-06-29 11:07</span><span class="bd" style="top:368.6px;background:#f9b72b;box-shadow:0 1px 2.6px rgba(250,185,45,.45)">待审批</span>
  <span class="abs" style="left:12px;top:396.6px;font-size:5.2px;font-weight:bold;color:#222;white-space:nowrap">加班申请</span><span class="abs" style="left:12px;top:406.7px;font-size:5px;color:#a4abb1;word-spacing:2.4px;white-space:nowrap">021-06-29 11:07</span><span class="bd" style="top:398.8px;background:#fb4a2c;box-shadow:0 1px 2.6px rgba(250,75,45,.45)">未通过</span>
  <span class="abs" style="left:12px;top:425.1px;font-size:5.2px;font-weight:bold;color:#222;white-space:nowrap">加班申请</span><span class="abs" style="left:12px;top:435.0px;font-size:5px;color:#a4abb1;word-spacing:2.4px;white-space:nowrap">021-06-29 11:07</span><span class="bd" style="top:428.6px;background:#3ec6d6;box-shadow:0 1px 2.6px rgba(60,200,215,.45)">已审批</span>
  <div class="hr" style="left:12px;right:6px;top:388px"></div><div class="hr" style="left:12px;right:6px;top:417px"></div>
  <div class="hr" style="left:0;right:0;top:446.4px;background:#f0f3f6"></div>
  <span class="rt" style="top:461.0px">我的团队</span>
  <span class="abs" style="left:12px;top:475.8px;font-size:4.4px;color:#222;font-weight:bold;white-space:nowrap">直接上级</span>
  <div class="av" style="left:11.5px;top:484.0px;width:12.6px;height:12.6px;background:radial-gradient(circle at 60% 50%,#ecc6a6 0,#e6bc9a 20%,rgba(230,188,154,0) 38%),radial-gradient(circle at 28% 28%,#b08440 0,#9a6e38 30%,rgba(154,110,56,0) 58%),radial-gradient(circle at 90% 55%,#2c201a 0,#3a2a22 22%,rgba(58,42,34,0) 42%),radial-gradient(circle at 75% 95%,#e8e4e0 0,rgba(232,228,224,0) 35%),#86644a"></div>
  <span class="abs" style="left:28.4px;top:489.1px;font-size:5.3px;color:#444;white-space:nowrap">李四琴</span>
  <div class="hr" style="left:12px;right:6px;top:502.4px"></div>
  <span class="abs" style="left:12px;top:511.6px;font-size:4.4px;color:#222;font-weight:bold;margin-top:-.6px;white-space:nowrap">团队成员</span>
  <div class="av" style="left:11.7px;top:519.9px;width:13.0px;height:13.0px;background:radial-gradient(circle at 62% 38%,#f6eff2 0,#efe4ea 12%,rgba(239,228,234,0) 30%),radial-gradient(circle at 34% 68%,#66586a 0,#76687a 24%,rgba(118,104,122,0) 46%),radial-gradient(circle at 70% 80%,#8a7a8a 0,rgba(138,122,138,0) 30%),#d2c5ce"></div>
  <span class="an" style="left:6.2px">李四琴</span>
  <div class="abs" style="left:12.2px;top:547px;width:12px;height:6px;border-radius:6px 6px 0 0;background:linear-gradient(#eef0f2,rgba(255,255,255,0));opacity:.7"></div>
  <div class="av" style="left:35.6px;top:519.9px;width:13.0px;height:13.0px;background:radial-gradient(circle at 64% 38%,#f6e2d8 0,#f0d6ca 22%,rgba(240,214,202,0) 40%),radial-gradient(circle at 50% 100%,#d0303f 0,#c83444 20%,rgba(200,52,68,0) 42%),radial-gradient(circle at 22% 42%,#8a2c20 0,#983628 30%,rgba(152,54,40,0) 58%),#c98068"></div>
  <span class="an" style="left:30.1px">张铭</span>
  <div class="abs" style="left:36.1px;top:547px;width:12px;height:6px;border-radius:6px 6px 0 0;background:linear-gradient(#eef0f2,rgba(255,255,255,0));opacity:.7"></div>
  <div class="av" style="left:59.5px;top:519.9px;width:13.0px;height:13.0px;background:radial-gradient(circle at 56% 54%,#dfb29a 0,#d8a890 16%,rgba(216,168,144,0) 30%),radial-gradient(circle at 56% 20%,#181214 0,#221a1c 28%,rgba(34,26,28,0) 44%),radial-gradient(circle at 58% 100%,#9c4436 0,#a04c3c 22%,rgba(160,76,60,0) 42%),linear-gradient(90deg,#f3f3f3 0,#eeeaea 42%,#a8a0a0 100%)"></div>
  <span class="an" style="left:54.0px">唐宏国</span>
  <div class="abs" style="left:60.0px;top:547px;width:12px;height:6px;border-radius:6px 6px 0 0;background:linear-gradient(#eef0f2,rgba(255,255,255,0));opacity:.7"></div>
  <div class="av" style="left:83.4px;top:519.9px;width:13.0px;height:13.0px;background:radial-gradient(circle at 62% 38%,#f6eff2 0,#efe4ea 12%,rgba(239,228,234,0) 30%),radial-gradient(circle at 34% 68%,#66586a 0,#76687a 24%,rgba(118,104,122,0) 46%),radial-gradient(circle at 70% 80%,#8a7a8a 0,rgba(138,122,138,0) 30%),#d2c5ce"></div>
  <span class="an" style="left:77.9px">欧阳娜娜</span>
  <div class="abs" style="left:83.9px;top:547px;width:12px;height:6px;border-radius:6px 6px 0 0;background:linear-gradient(#eef0f2,rgba(255,255,255,0));opacity:.7"></div>
  <div class="av" style="left:107.7px;top:519.9px;width:13.0px;height:13.0px;background:radial-gradient(circle at 64% 38%,#f6e2d8 0,#f0d6ca 22%,rgba(240,214,202,0) 40%),radial-gradient(circle at 50% 100%,#d0303f 0,#c83444 20%,rgba(200,52,68,0) 42%),radial-gradient(circle at 22% 42%,#8a2c20 0,#983628 30%,rgba(152,54,40,0) 58%),#c98068"></div>
  <span class="an" style="left:102.2px">林宏民</span>
  <div class="abs" style="left:108.2px;top:547px;width:12px;height:6px;border-radius:6px 6px 0 0;background:linear-gradient(#eef0f2,rgba(255,255,255,0));opacity:.7"></div>
  <span class="abs" style="left:0;right:0;top:565.4px;text-align:center;font-size:4.5px;color:#3a9cf0;white-space:nowrap">查看全部同事共32人</span>
</div>

</body>
</html>
